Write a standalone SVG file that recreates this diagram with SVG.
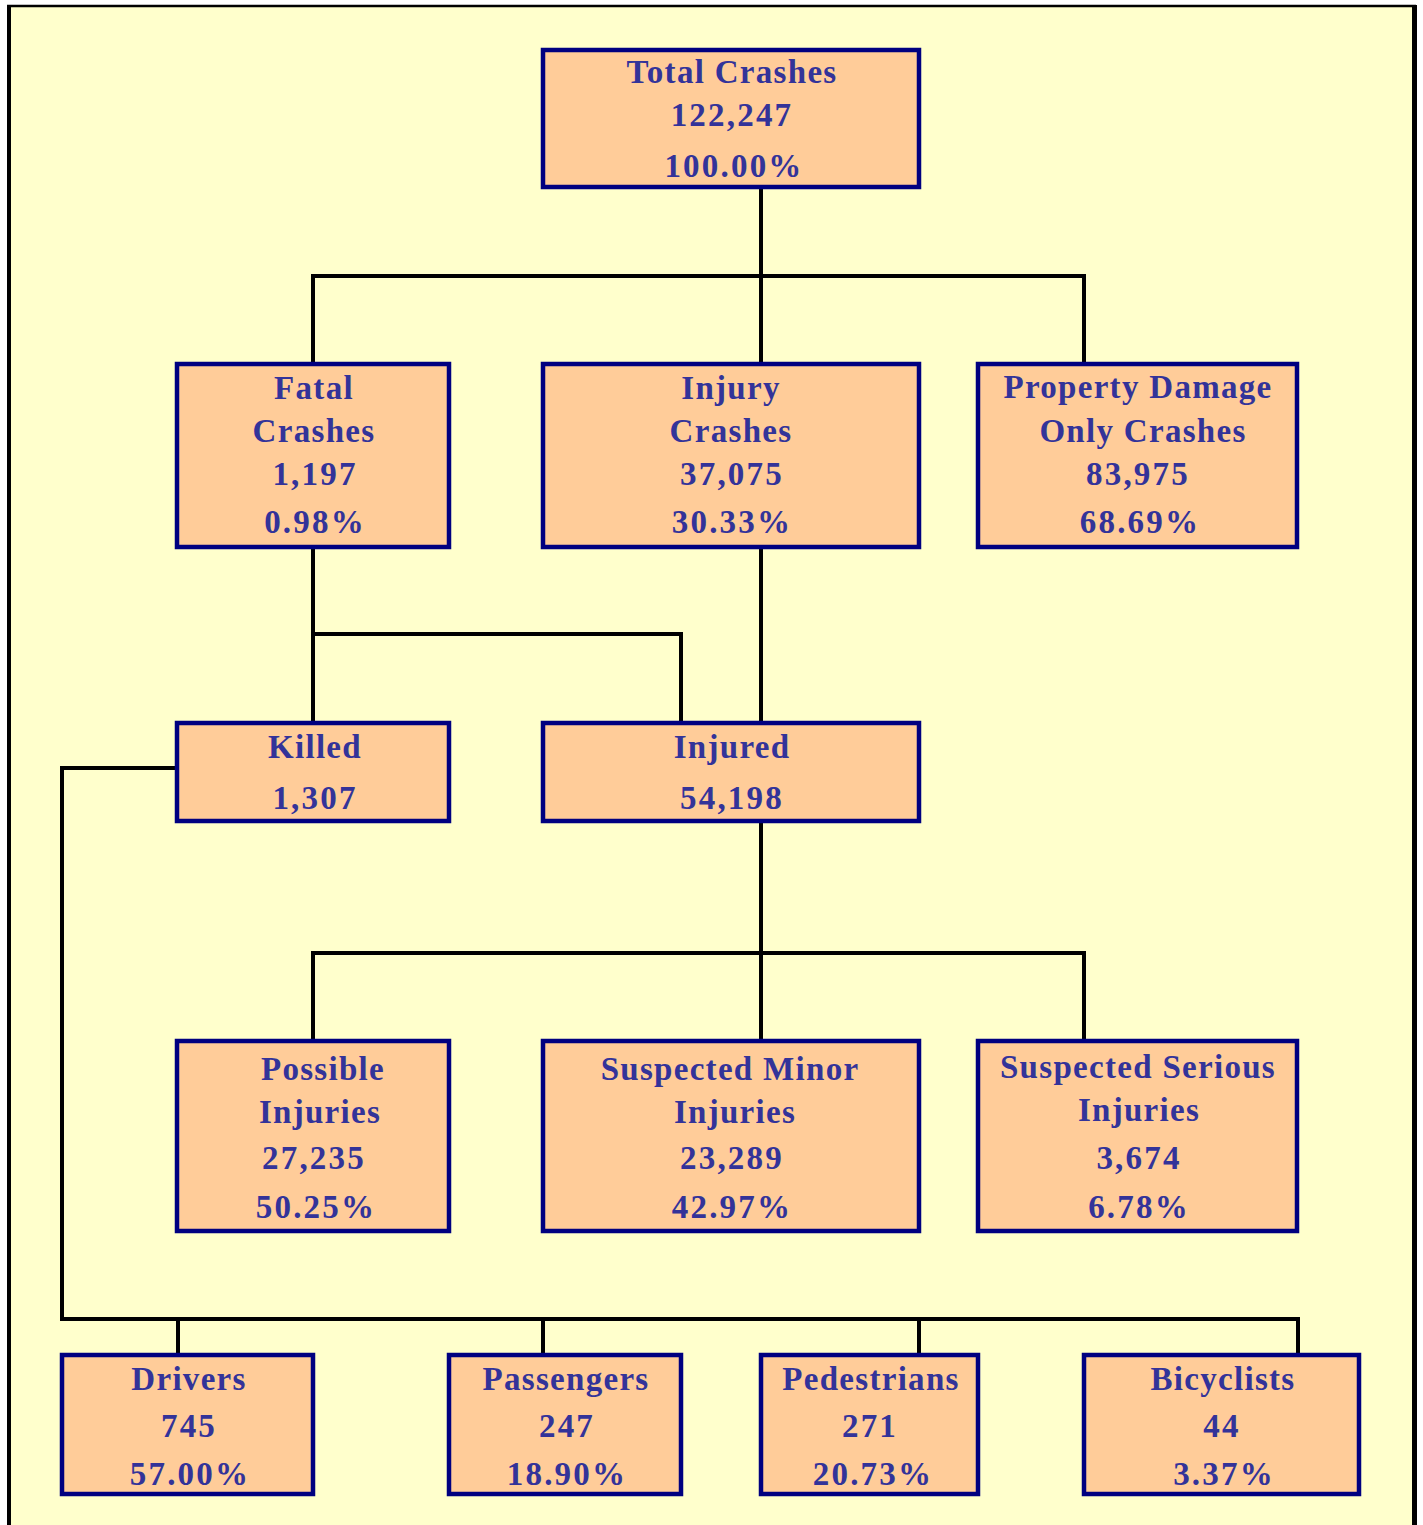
<svg xmlns="http://www.w3.org/2000/svg" width="1423" height="1525" viewBox="0 0 1423 1525">
<style>
.box{fill:#FFCC99;stroke:#000080;stroke-width:4.5}
.t{font-family:"Liberation Serif","Times New Roman",serif;font-weight:bold;font-size:33px;fill:#333399;text-anchor:middle;letter-spacing:1.3px}
.n{letter-spacing:2.2px}
.c{fill:none;stroke:#000;stroke-width:4}
</style>
<rect x="0" y="0" width="1423" height="1525" fill="#fff"/>
<rect x="9" y="6" width="1405" height="1519" fill="#FFFFCC"/>
<g id="frame" fill="none" stroke="#000">
<line x1="9" y1="5" x2="9" y2="1525" stroke-width="4"/>
<line x1="7" y1="6" x2="1416" y2="6" stroke-width="2.5"/>
<line x1="1414.5" y1="5" x2="1414.5" y2="1525" stroke-width="5"/>
</g>
<g id="connectors" class="c">
<path d="M761 187V364"/>
<path d="M313 364V276H1084V364"/>
<path d="M313 547V723"/>
<path d="M313 634H681V723"/>
<path d="M761 547V723"/>
<path d="M761 821V1041"/>
<path d="M313 1041V953H1084V1041"/>
<path d="M177 768H62V1319H1298V1355"/>
<path d="M178 1319V1355"/>
<path d="M543 1319V1355"/>
<path d="M919 1319V1355"/>
</g>
<g id="total"><rect class="box" x="543" y="50" width="376" height="137"/>
<text class="t" x="732" y="83">Total Crashes</text><text class="t n" x="732" y="126">122,247</text><text class="t n" x="734" y="177">100.00%</text></g>
<g id="fatal"><rect class="box" x="177" y="364" width="272" height="183"/>
<text class="t" x="314" y="399">Fatal</text><text class="t" x="314" y="442">Crashes</text><text class="t n" x="315" y="485">1,197</text><text class="t n" x="315" y="533">0.98%</text></g>
<g id="injury"><rect class="box" x="543" y="364" width="376" height="183"/>
<text class="t" x="731" y="399">Injury</text><text class="t" x="731" y="442">Crashes</text><text class="t n" x="732" y="485">37,075</text><text class="t n" x="732" y="533">30.33%</text></g>
<g id="pdo"><rect class="box" x="978" y="364" width="319" height="183"/>
<text class="t" x="1138" y="398">Property Damage</text><text class="t" x="1143" y="442">Only Crashes</text><text class="t n" x="1138" y="485">83,975</text><text class="t n" x="1140" y="533">68.69%</text></g>
<g id="killed"><rect class="box" x="177" y="723" width="272" height="98"/>
<text class="t" x="315" y="758">Killed</text><text class="t n" x="315" y="809">1,307</text></g>
<g id="injured"><rect class="box" x="543" y="723" width="376" height="98"/>
<text class="t" x="732" y="758">Injured</text><text class="t n" x="732" y="809">54,198</text></g>
<g id="possible"><rect class="box" x="177" y="1041" width="272" height="190"/>
<text class="t" x="323" y="1080">Possible</text><text class="t" x="320" y="1123">Injuries</text><text class="t n" x="314" y="1169">27,235</text><text class="t n" x="316" y="1218">50.25%</text></g>
<g id="minor"><rect class="box" x="543" y="1041" width="376" height="190"/>
<text class="t" x="730" y="1080">Suspected Minor</text><text class="t" x="735" y="1123">Injuries</text><text class="t n" x="732" y="1169">23,289</text><text class="t n" x="732" y="1218">42.97%</text></g>
<g id="serious"><rect class="box" x="978" y="1041" width="319" height="190"/>
<text class="t" x="1138" y="1078">Suspected Serious</text><text class="t" x="1139" y="1121">Injuries</text><text class="t n" x="1139" y="1169">3,674</text><text class="t n" x="1139" y="1218">6.78%</text></g>
<g id="drivers"><rect class="box" x="62" y="1355" width="251" height="139"/>
<text class="t" x="189" y="1390">Drivers</text><text class="t n" x="189" y="1437">745</text><text class="t n" x="190" y="1485">57.00%</text></g>
<g id="passengers"><rect class="box" x="449" y="1355" width="232" height="139"/>
<text class="t" x="566" y="1390">Passengers</text><text class="t n" x="567" y="1437">247</text><text class="t n" x="567" y="1485">18.90%</text></g>
<g id="pedestrians"><rect class="box" x="761" y="1355" width="217" height="139"/>
<text class="t" x="871" y="1390">Pedestrians</text><text class="t n" x="870" y="1437">271</text><text class="t n" x="873" y="1485">20.73%</text></g>
<g id="bicyclists"><rect class="box" x="1084" y="1355" width="275" height="139"/>
<text class="t" x="1223" y="1390">Bicyclists</text><text class="t n" x="1222" y="1437">44</text><text class="t n" x="1224" y="1485">3.37%</text></g>
</svg>
